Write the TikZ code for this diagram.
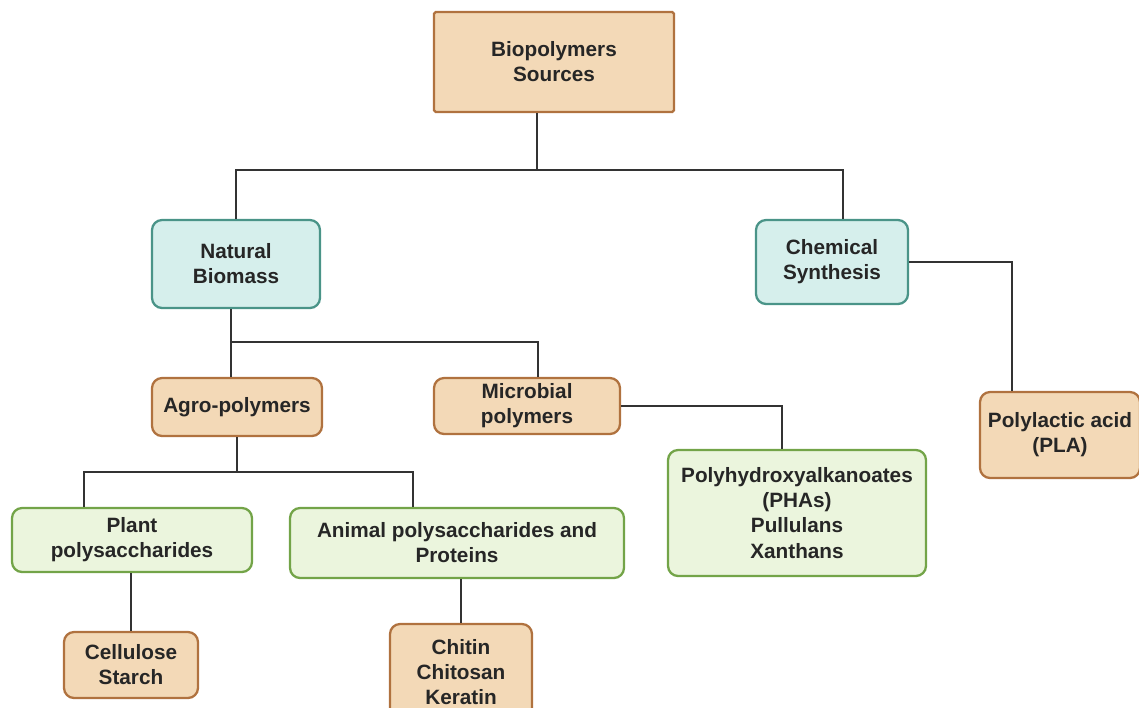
\documentclass[tikz,border=0pt]{standalone}
\usepackage{fontspec}
\setmainfont{Liberation Sans}
\usepackage{xcolor}
\usetikzlibrary{positioning}

\definecolor{wheatfill}{RGB}{243,217,183}
\definecolor{wheatline}{RGB}{176,114,63}
\definecolor{tealfill}{RGB}{214,239,236}
\definecolor{tealline}{RGB}{74,148,136}
\definecolor{greenfill}{RGB}{235,245,221}
\definecolor{greenline}{RGB}{115,164,72}
\definecolor{linkgray}{RGB}{51,51,51}

\begin{document}
\begin{tikzpicture}[x=0.02cm,y=-0.02cm,
   box/.style={draw,line width=1.3pt,rounded corners=0.2cm,align=center,
      inner sep=0pt,font=\bfseries\fontsize{11.8}{14.3}\selectfont,text=black!85},
   wheat/.style={box,fill=wheatfill,draw=wheatline},
   teal/.style={box,fill=tealfill,draw=tealline},
   green/.style={box,fill=greenfill,draw=greenline},
   link/.style={draw=linkgray,line width=1.1pt}]
   \useasboundingbox (0,0) rectangle (1139,707);
   % top level
   \node[wheat,rounded corners=1pt,minimum width=4.8cm,minimum height=2cm] (src) at (554,62) {Biopolymers\\Sources};
   \node[teal,minimum width=3.36cm,minimum height=1.76cm] (nat) at (236,264) {Natural\\Biomass};
   \node[teal,minimum width=3.04cm,minimum height=1.68cm] (chem) at (832,262) {Chemical\\Synthesis};
   % second level
   \node[wheat,minimum width=3.4cm,minimum height=1.16cm] (agro) at (237,407) {Agro-polymers};
   \node[wheat,minimum width=3.72cm,minimum height=1.12cm] (micro) at (527,406) {Microbial\\polymers};
   \node[wheat,minimum width=3.2cm,minimum height=1.72cm] (pla) at (1060,435) {Polylactic acid\\(PLA)};
   % third level
   \node[green,minimum width=4.8cm,minimum height=1.28cm] (plant) at (132,540) {Plant\\polysaccharides};
   \node[green,minimum width=6.68cm,minimum height=1.4cm] (animal) at (457,543) {Animal polysaccharides and\\Proteins};
   \node[green,minimum width=5.16cm,minimum height=2.52cm] (pha) at (797,513) {Polyhydroxyalkanoates\\(PHAs)\\Pullulans\\Xanthans};
   % leaves
   \node[wheat,minimum width=2.68cm,minimum height=1.32cm] (cell) at (131,665) {Cellulose\\Starch};
   \node[wheat,minimum width=2.84cm,minimum height=1.92cm] (chit) at (461,672) {Chitin\\Chitosan\\Keratin};

   % connectors
   \coordinate (bus1) at (537,170);
   \coordinate (bus2) at (231,342);
   \coordinate (bus3) at (237,472);
   \draw[link] (src.south -| bus1) -- (bus1);
   \draw[link] (nat.north) |- (bus1) -| ([xshift=0.22cm]chem.north);
   \draw[link] ([xshift=-0.1cm]nat.south) -- ([xshift=-0.12cm]agro.north);
   \draw[link] (bus2) -| ([xshift=0.22cm]micro.north);
   \draw[link] (chem.east) -| ([xshift=-0.96cm]pla.north);
   \draw[link] (micro.east) -| ([xshift=-0.3cm]pha.north);
   \draw[link] (agro.south) -- (bus3);
   \draw[link] ([xshift=-0.96cm]plant.north) |- (bus3) -| ([xshift=-0.88cm]animal.north);
   \draw[link] (plant.south -| cell.north) -- (cell.north);
   \draw[link] (animal.south -| chit.north) -- (chit.north);
\end{tikzpicture}
\end{document}
